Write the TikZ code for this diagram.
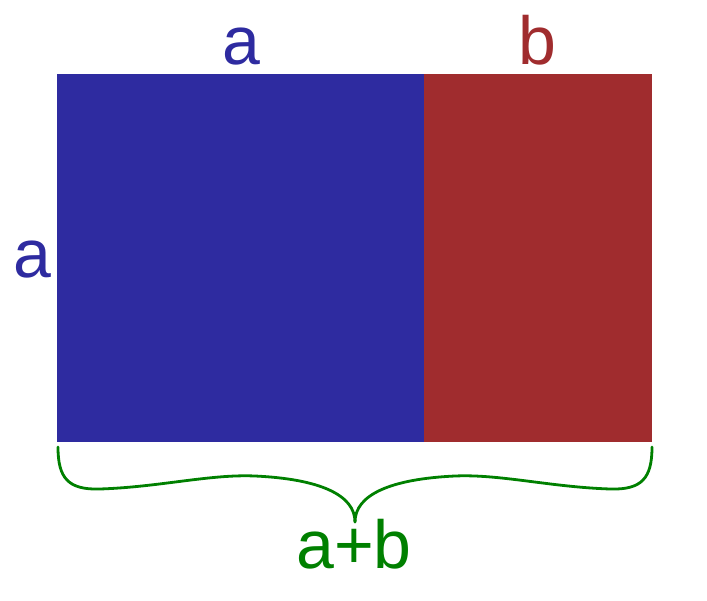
\documentclass[tikz,border=0pt]{standalone}
\usepackage{fontspec}
\setmainfont{Liberation Sans}
\usetikzlibrary{positioning,calc}
\definecolor{sideA}{RGB}{46,43,160}
\definecolor{sideB}{RGB}{160,44,46}
\definecolor{sumAB}{RGB}{0,128,0}
\tikzset{
  part/.style={draw=none,inner sep=0pt,outer sep=0pt,minimum height=368pt,anchor=north west},
  lbl/.style={inner sep=0pt,anchor=base,font=\fontsize{68}{80}\selectfont},
  brace/.style={draw=sumAB,line width=2.8pt,line cap=round}
}
\begin{document}
\begin{tikzpicture}[x=1pt,y=-1pt]
  \useasboundingbox (0,0) rectangle (707,600);

  % the two parts of the rectangle
  \node (sqa) [part,fill=sideA,minimum width=367pt] at (57,74) {};
  \node (recb) [part,fill=sideB,minimum width=228pt] at (sqa.north east) {};

  \node (lbla) [lbl,text=sideA] at (241,64) {a};
  \node (lblb) [lbl,text=sideB] at (537,64) {b};
  \node (lblside) [lbl,text=sideA] at (32,277) {a};
  \node (lblsum) [lbl,text=sumAB] at (354,568) {a+b};

  % brace under both parts
  \coordinate (bl) at (58,447);
  \coordinate (br) at (652,447);
  \coordinate (tip) at (355,522);
  \draw[brace] (bl) .. controls (58,478) and (68,490) .. (100,489)
    .. controls (160,487) and (210,474) .. (255,476)
    .. controls (320,479) and (355,495) .. (tip);
  \draw[brace] (br) .. controls (652,478) and (642,490) .. (610,489)
    .. controls (550,487) and (500,474) .. (455,476)
    .. controls (390,479) and (355,495) .. (tip);
\end{tikzpicture}
\end{document}
